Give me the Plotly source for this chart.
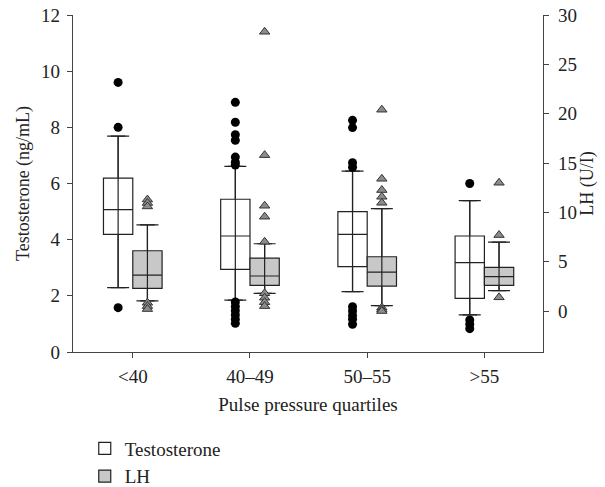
import plotly.graph_objects as go

categories = ["<40", "40–49", "50–55", ">55"]

# Testosterone (ng/mL) box statistics
t_q1 = [4.19, 2.94, 3.04, 1.91]
t_med = [5.07, 4.13, 4.19, 3.18]
t_q3 = [6.19, 5.44, 5.00, 4.13]
t_lo = [2.29, 1.85, 2.15, 1.32]
t_hi = [7.69, 6.61, 6.44, 5.39]
t_out = [
    [9.6, 8.0, 1.58],
    [8.89, 8.18, 7.74, 7.54, 6.94, 6.76, 6.66, 1.78, 1.62, 1.47, 1.32, 1.17, 1.02],
    [8.25, 7.99, 6.74, 6.58, 1.61, 1.46, 1.30, 1.17, 0.99],
    [6.0, 1.14, 0.99, 0.83],
]

# LH (U/l) box statistics
l_q1 = [2.30, 2.60, 2.53, 2.60]
l_med = [3.65, 3.55, 3.95, 3.48]
l_q3 = [6.11, 5.37, 5.50, 4.43]
l_lo = [1.04, 1.79, 0.54, 2.06]
l_hi = [8.74, 6.82, 10.37, 6.99]
l_out = [
    [11.3, 10.95, 10.6, 0.84, 0.5, 0.2],
    [28.3, 15.8, 10.67, 9.56, 7.02, 1.8, 1.35, 0.9, 0.5],
    [20.4, 13.4, 12.26, 11.58, 10.97, 0.35, 0.15, 0.0],
    [13.0, 7.7, 1.39],
]

left_ticks = [0, 2, 4, 6, 8, 10, 12]
right_ticks = [0, 5, 10, 15, 20, 25, 30]

OFF = 0.125
BW = 0.25
LINE = "#222222"
FONT = "Liberation Serif"
TICK_FS = 19
TITLE_FS = 18
XTITLE_FS = 19
LEG_FS = 19

idx = list(range(len(categories)))
xt = [i - OFF for i in idx]
xl = [i + OFF for i in idx]

fig = go.Figure()


def caps(x, lo, hi, yaxis):
    return go.Scatter(
        x=x,
        y=[(a + b) / 2 for a, b in zip(lo, hi)],
        mode="markers",
        marker=dict(size=1, color="rgba(0,0,0,0)"),
        error_y=dict(type="data", array=[(b - a) / 2 for a, b in zip(lo, hi)],
                     symmetric=True, color=LINE, thickness=1.2, width=11),
        showlegend=False, hoverinfo="skip", yaxis=yaxis,
    )


fig.add_trace(caps(xt, t_lo, t_hi, "y"))
fig.add_trace(go.Box(
    name="Testosterone", x=xt, q1=t_q1, median=t_med, q3=t_q3,
    lowerfence=t_lo, upperfence=t_hi, width=BW, boxpoints=False,
    fillcolor="white", line=dict(color=LINE, width=1.2), yaxis="y",
))
ox, oy = [], []
for i, vals in enumerate(t_out):
    ox += [xt[i]] * len(vals)
    oy += vals
fig.add_trace(go.Scatter(
    x=ox, y=oy, mode="markers", showlegend=False, yaxis="y",
    marker=dict(symbol="circle", size=9, color="black"),
))

fig.add_trace(caps(xl, l_lo, l_hi, "y2"))
fig.add_trace(go.Box(
    name="LH", x=xl, q1=l_q1, median=l_med, q3=l_q3,
    lowerfence=l_lo, upperfence=l_hi, width=BW, boxpoints=False,
    fillcolor="#c8c8c8", line=dict(color=LINE, width=1.2), yaxis="y2",
))
lx, ly = [], []
for i, vals in enumerate(l_out):
    lx += [xl[i]] * len(vals)
    ly += vals
fig.add_trace(go.Scatter(
    x=lx, y=ly, mode="markers", showlegend=False, yaxis="y2",
    marker=dict(symbol="triangle-up", size=9, color="#8c8c8c",
                line=dict(color="#333333", width=1)),
))

axis_common = dict(showgrid=False, zeroline=False, showline=True,
                   linecolor="#444444", linewidth=1.2, ticks="outside",
                   ticklen=5, tickcolor="#444444", automargin=False,
                   ticklabeloverflow="allow",
                   tickfont=dict(family=FONT, size=TICK_FS, color="#222"))

fig.update_layout(
    width=605, height=487,
    margin=dict(l=73, r=62, t=15, b=135, autoexpand=False),
    paper_bgcolor="white", plot_bgcolor="white",
    font=dict(family=FONT, size=TITLE_FS, color="#222"),
    xaxis=dict(range=[-0.51, 3.5], tickvals=idx, ticktext=categories,
               ticklabelstandoff=2,
               title=dict(text="Pulse pressure quartiles", standoff=11,
                          font=dict(size=XTITLE_FS)),
               **axis_common),
    yaxis=dict(range=[0, 12], tickvals=left_ticks, ticklabelstandoff=3,
               title=dict(text="Testosterone (ng/mL)", standoff=6,
                          font=dict(size=TITLE_FS)),
               **axis_common),
    yaxis2=dict(range=[-4.15, 30], tickvals=right_ticks, overlaying="y",
                side="right", ticklabelstandoff=5,
                title=dict(text="LH (U/I)", standoff=2,
                           font=dict(size=TITLE_FS)),
                **axis_common),
    legend=dict(x=0.025, y=-0.23, xanchor="left", yanchor="top",
                font=dict(family=FONT, size=LEG_FS, color="#222"),
                tracegroupgap=0, bgcolor="rgba(0,0,0,0)"),
    showlegend=True,
)

fig.write_html("out.html",
               config={"displayModeBar": False},
               post_script="document.body.style.margin='0';")
